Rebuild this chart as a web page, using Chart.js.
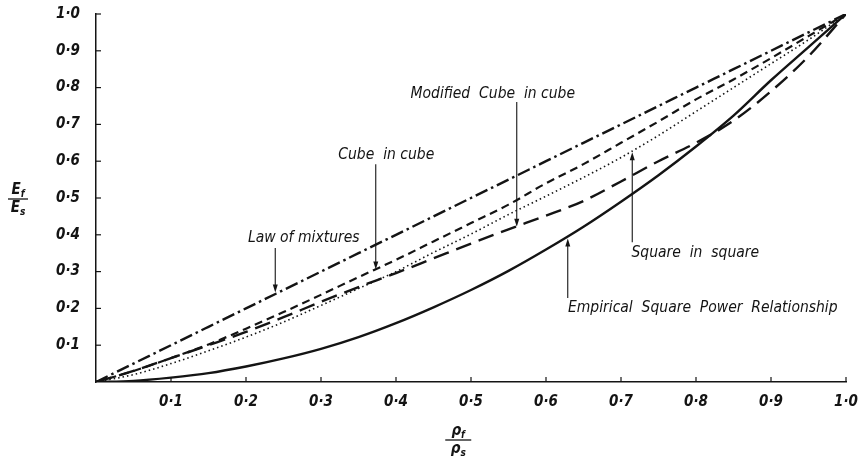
<!DOCTYPE html>
<html>
<head>
<meta charset="utf-8">
<script src="https://cdn.jsdelivr.net/npm/chart.js@4.4.1/dist/chart.umd.min.js"></script>
<style>
body { margin: 0; background: #fff; }
canvas { display: block; }
</style>
</head>
<body>
<canvas id="myChart" width="859" height="462"></canvas>
<script>
// relative density rho_f / rho_s
const density = [0, 0.05, 0.1, 0.15, 0.2, 0.25, 0.3, 0.35, 0.4, 0.45, 0.5, 0.55, 0.6, 0.65, 0.7, 0.75, 0.8, 0.85, 0.9, 0.95, 1.0]

// relative modulus E_f / E_s
const lawOfMixtures = [0, 0.05, 0.1, 0.15, 0.2, 0.25, 0.3, 0.35, 0.4, 0.45, 0.5, 0.55, 0.6, 0.65, 0.7, 0.75, 0.8, 0.85, 0.9, 0.95, 1.0]
const cubeInCube = [0, 0.03, 0.065, 0.102, 0.145, 0.19, 0.237, 0.285, 0.332, 0.382, 0.432, 0.482, 0.54, 0.592, 0.65, 0.708, 0.768, 0.822, 0.88, 0.94, 1.0]
const modifiedCubeInCube = [0, 0.03, 0.065, 0.1, 0.136, 0.176, 0.218, 0.258, 0.296, 0.336, 0.376, 0.415, 0.452, 0.492, 0.545, 0.6, 0.65, 0.71, 0.79, 0.885, 1.0]
const squareInSquare = [0, 0.02, 0.05, 0.085, 0.122, 0.163, 0.208, 0.254, 0.3, 0.352, 0.402, 0.455, 0.505, 0.556, 0.61, 0.67, 0.735, 0.8, 0.865, 0.93, 1.0]
const empirical = [0, 0.003, 0.012, 0.024, 0.042, 0.064, 0.09, 0.122, 0.16, 0.203, 0.25, 0.302, 0.36, 0.422, 0.49, 0.562, 0.64, 0.724, 0.82, 0.91, 1.0]

const tickValues = [0.1, 0.2, 0.3, 0.4, 0.5, 0.6, 0.7, 0.8, 0.9, 1.0]

// label text, where the text sits, and the arrow (x, from y, to y) in data units
const callouts = [
    { text: 'Law of mixtures', tx: 0.277, ty: 0.391, ax: 0.239, ay1: 0.364, ay2: 0.243 },
    { text: 'Cube  in cube', tx: 0.387, ty: 0.617, ax: 0.373, ay1: 0.592, ay2: 0.306 },
    { text: 'Modified  Cube  in cube', tx: 0.529, ty: 0.783, ax: 0.561, ay1: 0.761, ay2: 0.422 },
    { text: 'Square  in  square', tx: 0.799, ty: 0.35, ax: 0.715, ay1: 0.38, ay2: 0.624 },
    { text: 'Empirical  Square  Power  Relationship', tx: 0.809, ty: 0.201, ax: 0.629, ay1: 0.228, ay2: 0.39 }
]

const ink = '#141414'
const labelFont = 'italic 15.5px "DejaVu Sans Condensed", "DejaVu Sans", sans-serif'
const titleFont = 'italic bold 15px "DejaVu Sans Condensed", "DejaVu Sans", sans-serif'
const subFont = 'italic bold 10px "DejaVu Sans Condensed", "DejaVu Sans", sans-serif'

function toPoints(ys) {
    return density.map((x, i) => ({ x: x, y: ys[i] }))
}

function drawSubscripted(ctx, base, sub, cx, cy) {
    ctx.font = titleFont
    const w1 = ctx.measureText(base).width
    ctx.font = subFont
    const w2 = ctx.measureText(sub).width
    const left = cx - (w1 + w2) / 2
    ctx.textAlign = 'left'
    ctx.textBaseline = 'middle'
    ctx.font = titleFont
    ctx.fillText(base, left, cy)
    ctx.font = subFont
    ctx.fillText(sub, left + w1, cy + 4)
}

function drawFraction(ctx, top, bottom, sub1, sub2, cx, cy, halfWidth) {
    drawSubscripted(ctx, top, sub1, cx, cy - 9)
    ctx.beginPath()
    ctx.lineWidth = 1.3
    ctx.moveTo(cx - halfWidth, cy)
    ctx.lineTo(cx + halfWidth, cy)
    ctx.stroke()
    drawSubscripted(ctx, bottom, sub2, cx, cy + 9)
}

// keep the plot box where the figure has it: no extra room for edge labels
function noEdgePadding(s) {
    s.paddingTop = 0
    s.paddingBottom = 0
    s.paddingLeft = 0
    s.paddingRight = 0
}

const overlay = {
    id: 'overlay',
    afterDraw(chart) {
        const ctx = chart.ctx
        const xs = chart.scales.x
        const ys = chart.scales.y
        ctx.save()
        ctx.strokeStyle = ink
        ctx.fillStyle = ink

        // tick marks point into the plot
        ctx.lineWidth = 1.2
        for (let v of tickValues) {
            const px = xs.getPixelForValue(v)
            ctx.beginPath()
            ctx.moveTo(px, ys.bottom)
            ctx.lineTo(px, ys.bottom - 5)
            ctx.stroke()
            const py = ys.getPixelForValue(v)
            ctx.beginPath()
            ctx.moveTo(xs.left, py)
            ctx.lineTo(xs.left + 5, py)
            ctx.stroke()
        }

        // callouts with arrows
        for (let c of callouts) {
            ctx.font = labelFont
            ctx.textAlign = 'center'
            ctx.textBaseline = 'middle'
            ctx.fillText(c.text, xs.getPixelForValue(c.tx), ys.getPixelForValue(c.ty))

            const ax = xs.getPixelForValue(c.ax)
            const y1 = ys.getPixelForValue(c.ay1)
            const y2 = ys.getPixelForValue(c.ay2)
            const dir = y2 > y1 ? 1 : -1
            ctx.lineWidth = 1.1
            ctx.beginPath()
            ctx.moveTo(ax, y1)
            ctx.lineTo(ax, y2 - dir * 6)
            ctx.stroke()
            ctx.beginPath()
            ctx.moveTo(ax, y2)
            ctx.lineTo(ax - 2.5, y2 - dir * 8)
            ctx.lineTo(ax + 2.5, y2 - dir * 8)
            ctx.closePath()
            ctx.fill()
        }

        // axis titles as fractions
        drawFraction(ctx, 'E', 'E', 'f', 's', 18, ys.getPixelForValue(0.5) + 1, 10)
        drawFraction(ctx, '\u03c1', '\u03c1', 'f', 's', xs.getPixelForValue(0.483), 440, 13)

        ctx.restore()
    }
}

const tickFont = { family: '"DejaVu Sans Condensed", "DejaVu Sans", sans-serif', size: 15, style: 'italic', weight: 'bold' }

function formatTick(value) {
    return Number(value).toFixed(1).replace('.', '\u00b7')
}

var ctx = document.getElementById('myChart').getContext('2d');
var myChart = new Chart(ctx, {
    type: 'line',
    data: {
        datasets: [{
            label: 'Law of mixtures',
            data: toPoints(lawOfMixtures),
            borderColor: ink,
            borderWidth: 2.4,
            borderDash: [13, 4, 2.5, 4]
        },
        {
            label: 'Cube in cube',
            data: toPoints(cubeInCube),
            borderColor: ink,
            borderWidth: 2.2,
            borderDash: [8, 5]
        },
        {
            label: 'Modified Cube in cube',
            data: toPoints(modifiedCubeInCube),
            borderColor: ink,
            borderWidth: 2.4,
            borderDash: [16, 8]
        },
        {
            label: 'Square in square',
            data: toPoints(squareInSquare),
            borderColor: ink,
            borderWidth: 1.6,
            borderDash: [1.5, 3]
        },
        {
            label: 'Empirical Square Power Relationship',
            data: toPoints(empirical),
            borderColor: ink,
            borderWidth: 2.4
        }]
    },
    options: {
        responsive: false,
        animation: false,
        events: [],
        layout: {
            padding: { top: 14, right: 13, left: 0, bottom: 0 }
        },
        elements: {
            point: { radius: 0 },
            line: { cubicInterpolationMode: 'monotone', fill: false }
        },
        plugins: {
            legend: { display: false },
            tooltip: { enabled: false }
        },
        scales: {
            x: {
                type: 'linear',
                min: 0,
                max: 1,
                afterBuildTicks: s => { s.ticks = tickValues.map(v => ({ value: v })) },
                afterFit: s => { s.height = 80; noEdgePadding(s) },
                grid: { display: false },
                border: { display: true, color: ink, width: 1.5 },
                ticks: {
                    color: ink,
                    font: tickFont,
                    padding: 3,
                    maxRotation: 0,
                    autoSkip: false,
                    callback: formatTick
                }
            },
            y: {
                type: 'linear',
                min: 0,
                max: 1,
                afterBuildTicks: s => { s.ticks = tickValues.map(v => ({ value: v })) },
                afterFit: s => { s.width = 96; noEdgePadding(s) },
                grid: { display: false },
                border: { display: true, color: ink, width: 1.5 },
                ticks: {
                    color: ink,
                    font: tickFont,
                    padding: 8,
                    autoSkip: false,
                    callback: formatTick
                }
            }
        }
    },
    plugins: [overlay]
});
</script>
</body>
</html>
